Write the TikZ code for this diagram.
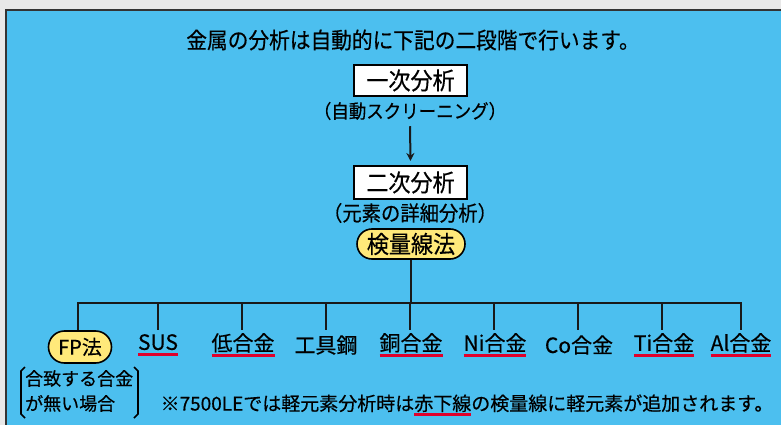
\documentclass[tikz,border=0pt]{standalone}
\usepackage{fontspec}
\setmainfont[FakeBold=0.4]{Noto Sans CJK JP}
\newfontfamily\condfont[FakeStretch=0.92,FakeBold=0.4]{Noto Sans CJK JP}
\usetikzlibrary{arrows.meta,shapes.misc}
\definecolor{bgblue}{HTML}{4CBFEF}
\definecolor{outgray}{HTML}{E8E8E8}
\definecolor{boxyellow}{HTML}{FFE97A}
\definecolor{ulred}{HTML}{E0002B}
\newcommand{\redul}[2][-6pt]{\setbox0\hbox{#2}\rlap{\color{ulred}\rule[#1]{\wd0}{2.5pt}}\box0}
\begin{document}
\begin{tikzpicture}[x=1pt,y=-1pt,
  conn/.style={line width=2.5pt,black!90},
  wbox/.style={draw=black,line width=2.4pt,fill=white,minimum width=113pt,inner sep=0pt,font=\condfont\fontsize{24}{26}\selectfont},
  ybox/.style={draw=black,line width=1.6pt,fill=boxyellow,rounded rectangle,inner sep=0pt},
  sub/.style={font=\condfont\fontsize{19}{22}\selectfont,inner sep=0pt},
  lab/.style={font=\fontsize{21}{24}\selectfont,inner xsep=0pt,inner ysep=0pt,minimum height=30pt},
]
\useasboundingbox (0,0) rectangle (781,425);
\fill[outgray] (0,0) rectangle (781,425);
\draw[fill=bgblue,draw=black!80,line width=2pt] (6,10) rectangle (795,440);

\node[font=\condfont\fontsize{22.5}{24}\selectfont] (title) at (413,40) {金属の分析は自動的に下記の二段階で行います。};
\node[wbox,minimum height=31pt] (b1) at (410.5,80.5) {一次分析};
\node[sub] (s1) at (410,111) {（自動スクリーニング）};
\node[wbox,minimum height=33pt] (b2) at (410.5,182.5) {二次分析};
\node[sub,font=\condfont\fontsize{21}{22}\selectfont] (s2) at (410,213) {（元素の詳細分析）};
\node[ybox,minimum width=108pt,minimum height=30pt,font=\condfont\fontsize{24}{26}\selectfont] (k) at (411,244) {検量線法};

\draw[conn,line width=2pt,-{Stealth[length=8pt,width=8pt]}] (s1.south) ++(0,6) coordinate (a0) (a0) -- (b2.north |- 0,161);

\coordinate (bar) at (0,303);
\node[ybox,minimum width=63pt,minimum height=32pt,font=\fontsize{20}{24}\selectfont] (l1) at (80,347) {FP法};
\node[lab] (l2) at (158,345) {\redul{SUS}};
\node[lab] (l3) at (243,345) {\redul{低合金}};
\node[lab] (l4) at (326,345) {工具鋼};
\node[lab] (l5) at (411,345) {\redul{銅合金}};
\node[lab] (l6) at (495,345) {\redul{Ni合金}};
\node[lab] (l7) at (579,345) {Co合金};
\node[lab] (l8) at (664,345) {\redul{Ti合金}};
\node[lab] (l9) at (741,345) {\redul{Al合金}};

\draw[conn] (k.south) -- (k.south |- bar);
\draw[conn] (l1.north -| 78,0) -- (78,303) -- (741,303) -- (741,330);
\foreach \xx in {158,242,326,410,494,578,662} {\draw[conn] (\xx,303) -- (\xx,330);}

\node[font=\fontsize{18}{25}\selectfont,align=left,inner sep=0pt,anchor=west] (fpnote) at (25,391) {合致する合金\\が無い場合};
\draw[line width=1.6pt,black] (25,367) -- (21,371) -- (21,414) -- (25,418);
\draw[line width=1.6pt,black] (134,367) -- (138,371) -- (138,414) -- (134,418);

\node[font=\fontsize{19}{22}\selectfont,inner sep=0pt] (note) at (467,405) {※7500LEでは軽元素分析時は\redul[-5pt]{赤下線}の検量線に軽元素が追加されます。};
\end{tikzpicture}
\end{document}
